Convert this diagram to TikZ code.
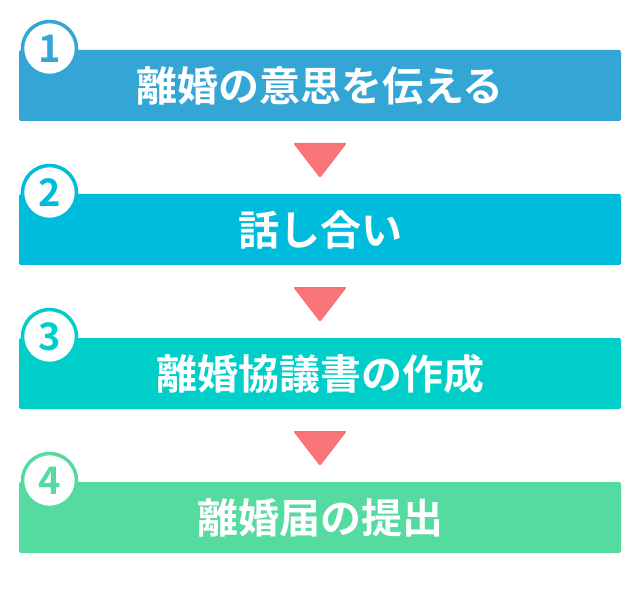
\documentclass[tikz,border=0pt]{standalone}
\usepackage{fontspec}
\setmainfont{Noto Sans CJK JP}[BoldFont={Noto Sans CJK JP Bold}]
\usetikzlibrary{positioning}
\definecolor{stepone}{HTML}{33A6D6}
\definecolor{steptwo}{HTML}{00BCDC}
\definecolor{stepthree}{HTML}{00CFC9}
\definecolor{stepfour}{HTML}{55DBA0}
\definecolor{arrowred}{HTML}{F87478}

\begin{document}
\begin{tikzpicture}[x=1pt, y=-1pt,
    stepbox/.style={fill=#1, rounded corners=2pt, minimum width=602pt, minimum height=71pt,
      inner sep=0pt, text=white, font=\bfseries\fontsize{41}{41}\selectfont},
    numcircle/.style={circle, draw=#1, fill=white, line width=3.5pt, minimum size=54pt,
      inner sep=0pt, text=#1, font=\bfseries\fontsize{38}{38}\selectfont}]
  \useasboundingbox (0,0) rectangle (640,604);
  \foreach \i/\col/\txt/\y in {
    1/stepone/離婚の意思を伝える/50,
    2/steptwo/話し合い/194,
    3/stepthree/離婚協議書の作成/338,
    4/stepfour/離婚届の提出/482} {
    \node[stepbox=\col] (box\i) at (320,\y+35.5) {\txt};
    \node[numcircle=\col] (num\i) at (49.5,\y-1.5) {\i};
  }
  % down arrows between the steps
  \foreach \y in {50, 194, 338} {
    \fill[arrowred, rounded corners=1.5pt] (293,\y+93) -- (347,\y+93) -- (320,\y+128) -- cycle;
  }
\end{tikzpicture}
\end{document}
